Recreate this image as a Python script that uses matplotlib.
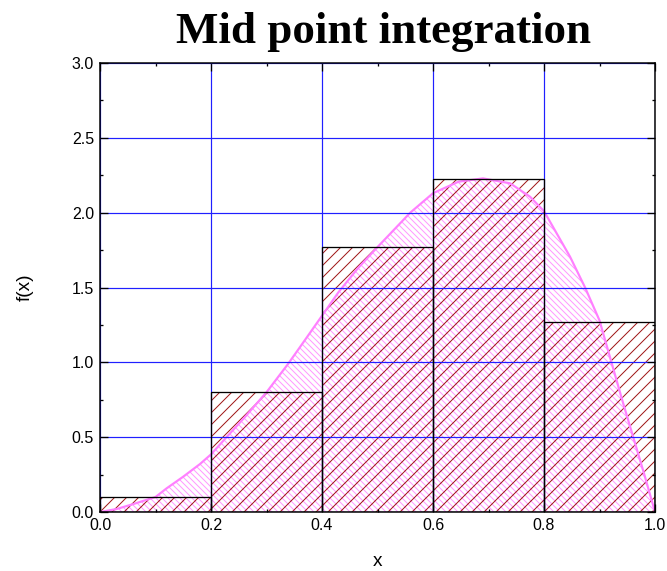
import matplotlib
matplotlib.use('Agg')
import matplotlib.pyplot as plt
from matplotlib.ticker import MultipleLocator

curve_x = [0.0, 0.03, 0.06, 0.1, 0.12, 0.15, 0.18, 0.2, 0.228, 0.26, 0.3, 0.339,
           0.36, 0.396, 0.43, 0.465, 0.5, 0.559, 0.6, 0.646, 0.69, 0.739, 0.775,
           0.8, 0.847, 0.874, 0.9, 0.92, 0.94, 0.96, 0.98, 1.0]
curve_y = [0.0, 0.02, 0.053, 0.1, 0.158, 0.236, 0.32, 0.385, 0.5, 0.63, 0.8, 0.99,
           1.1, 1.29, 1.47, 1.63, 1.77, 2.0, 2.13, 2.207, 2.229, 2.196, 2.106,
           2.01, 1.705, 1.5, 1.28, 1.02, 0.76, 0.51, 0.26, 0.0]

# mid point rectangles
bar_left = [0.0, 0.2, 0.4, 0.6, 0.8]
bar_width = 0.2
bar_height = [0.1, 0.8, 1.77, 2.225, 1.27]

plt.rcParams['font.family'] = ['Liberation Sans', 'DejaVu Sans']
plt.rcParams['hatch.linewidth'] = 1.0

fig = plt.figure(figsize=(667 / 72, 571 / 72), dpi=72)
ax = fig.add_axes([100 / 667, 59 / 571, 555 / 667, 449 / 571])

# area under the curve
ax.fill_between(curve_x, curve_y, 0, facecolor='none', edgecolor='#ff99ff',
                hatch='\\\\\\\\', linewidth=0, zorder=1)
# hatched rectangles
ax.bar(bar_left, bar_height, width=bar_width, align='edge', fill=False,
       edgecolor='#a01818', hatch='//', linewidth=0, zorder=1.5)
ax.plot(curve_x, curve_y, color='#ff80ff', linewidth=2.2, zorder=2.5)
ax.bar(bar_left, bar_height, width=bar_width, align='edge', fill=False,
       edgecolor='black', linewidth=1.3, zorder=3)

ax.set_xlim(0, 1)
ax.set_ylim(0, 3)
ax.xaxis.set_major_locator(MultipleLocator(0.2))
ax.xaxis.set_minor_locator(MultipleLocator(0.1))
ax.yaxis.set_major_locator(MultipleLocator(0.5))
ax.yaxis.set_minor_locator(MultipleLocator(0.25))
ax.grid(True, which='major', color='#2020ff', linewidth=1.2)
ax.set_axisbelow(False)

ax.tick_params(which='both', direction='in', top=True, right=True,
               labelsize=16, width=1.3, colors='black')
ax.tick_params(which='major', length=8, pad=6)
ax.tick_params(which='minor', length=3)
for s in ax.spines.values():
    s.set_linewidth(1.5)
    s.set_zorder(4)

ax.set_xlabel('x', fontsize=19, labelpad=20)
ax.set_ylabel('f(x)', fontsize=19, labelpad=38)
ax.set_title('Mid point integration', fontsize=45, fontweight='bold',
             family='Liberation Serif', pad=20, x=0.51)

fig.savefig('out.png', dpi=72)
